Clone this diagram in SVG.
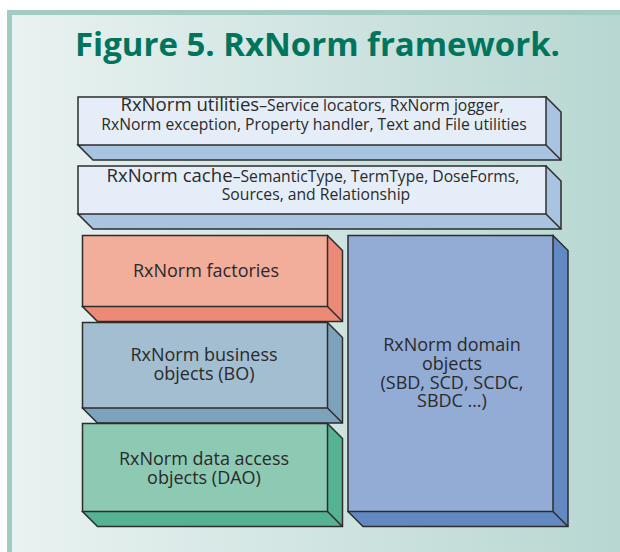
<svg xmlns="http://www.w3.org/2000/svg" width="620" height="552" viewBox="0 0 620 552">
<defs>
<linearGradient id="bg" x1="0" y1="0" x2="1" y2="0">
<stop offset="0" stop-color="#e9f2f1"/>
<stop offset="1" stop-color="#b8d7d2"/>
</linearGradient>
<style>
.edge{stroke:#2d2d2d;stroke-width:1.5;stroke-linejoin:miter;fill:none}
.t{font-family:"Open Sans","Noto Sans","DejaVu Sans",sans-serif;fill:#2a2a2a;text-anchor:middle}
.big{font-size:18px}
.head{font-size:18.6px}
.small{font-size:15.7px}
.title{font-family:"Open Sans","Noto Sans","DejaVu Sans",sans-serif;font-weight:bold;font-size:33px;fill:#00755d}
</style>
</defs>
<rect x="0" y="0" width="620" height="552" fill="#ffffff"/>
<rect x="7" y="10" width="613" height="542" fill="#a2cbc5"/>
<rect x="12" y="15" width="608" height="537" fill="url(#bg)"/>
<text class="title" x="75" y="56" textLength="485" lengthAdjust="spacingAndGlyphs">Figure 5. RxNorm framework.</text>

<g id="utilities">
<polygon points="546,97 561,112 561,160 93,160 78,145" class="edge" style="fill:#a9c4e0"/>
<line x1="546" y1="145" x2="561" y2="160" class="edge"/>
<rect x="78" y="97" width="468" height="48" style="fill:#e5edf8" class="edge"/>
<text class="t" x="312" y="111"><tspan class="head">RxNorm utilities</tspan><tspan class="small">–Service locators, RxNorm jogger,</tspan></text>
<text class="t small" x="314" y="130">RxNorm exception, Property handler, Text and File utilities</text>
</g>

<g id="cache">
<polygon points="546,166 561,181 561,229 93,229 78,214" class="edge" style="fill:#a9c4e0"/>
<line x1="546" y1="214" x2="561" y2="229" class="edge"/>
<rect x="78" y="166" width="468" height="48" style="fill:#e5edf8" class="edge"/>
<text class="t" x="313" y="182"><tspan class="head">RxNorm cache</tspan><tspan class="small">–SemanticType, TermType, DoseForms,</tspan></text>
<text class="t small" x="316" y="200">Sources, and Relationship</text>
</g>

<g id="factories">
<polygon points="327.5,235.5 342.5,250.5 342.5,321.5 97.5,321.5 82.5,306.5" class="edge" style="fill:#ec8977"/>
<line x1="327.5" y1="306.5" x2="342.5" y2="321.5" class="edge"/>
<rect x="82.5" y="235.5" width="245" height="71" style="fill:#f2ad9b" class="edge"/>
<text class="t big" x="206" y="277">RxNorm factories</text>
</g>

<g id="business">
<polygon points="327.5,322.5 342.5,337.5 342.5,423 97.5,423 82.5,408" class="edge" style="fill:#7ea2bb"/>
<line x1="327.5" y1="408" x2="342.5" y2="423" class="edge"/>
<rect x="82.5" y="322.5" width="245" height="85.5" style="fill:#a3bdd1" class="edge"/>
<text class="t big" x="204" y="361">RxNorm business</text>
<text class="t big" x="204" y="380">objects (BO)</text>
</g>

<g id="dao">
<polygon points="327.5,423.5 342.5,438.5 342.5,526.5 97.5,526.5 82.5,511.5" class="edge" style="fill:#55b393"/>
<line x1="327.5" y1="511.5" x2="342.5" y2="526.5" class="edge"/>
<rect x="82.5" y="423.5" width="245" height="88" style="fill:#8ec9b3" class="edge"/>
<text class="t big" x="204" y="465">RxNorm data access</text>
<text class="t big" x="204" y="483.5">objects (DAO)</text>
</g>

<g id="domain">
<polygon points="553,235.5 568,250.5 568,526.5 363,526.5 348,511.5" class="edge" style="fill:#6389c3"/>
<line x1="553" y1="511.5" x2="568" y2="526.5" class="edge"/>
<rect x="348" y="235.5" width="205" height="276" style="fill:#93acd6" class="edge"/>
<text class="t big" x="452" y="351">RxNorm domain</text>
<text class="t big" x="452" y="369.5">objects</text>
<text class="t big" x="452" y="389">(SBD, SCD, SCDC,</text>
<text class="t big" x="452" y="407">SBDC …)</text>
</g>
</svg>
